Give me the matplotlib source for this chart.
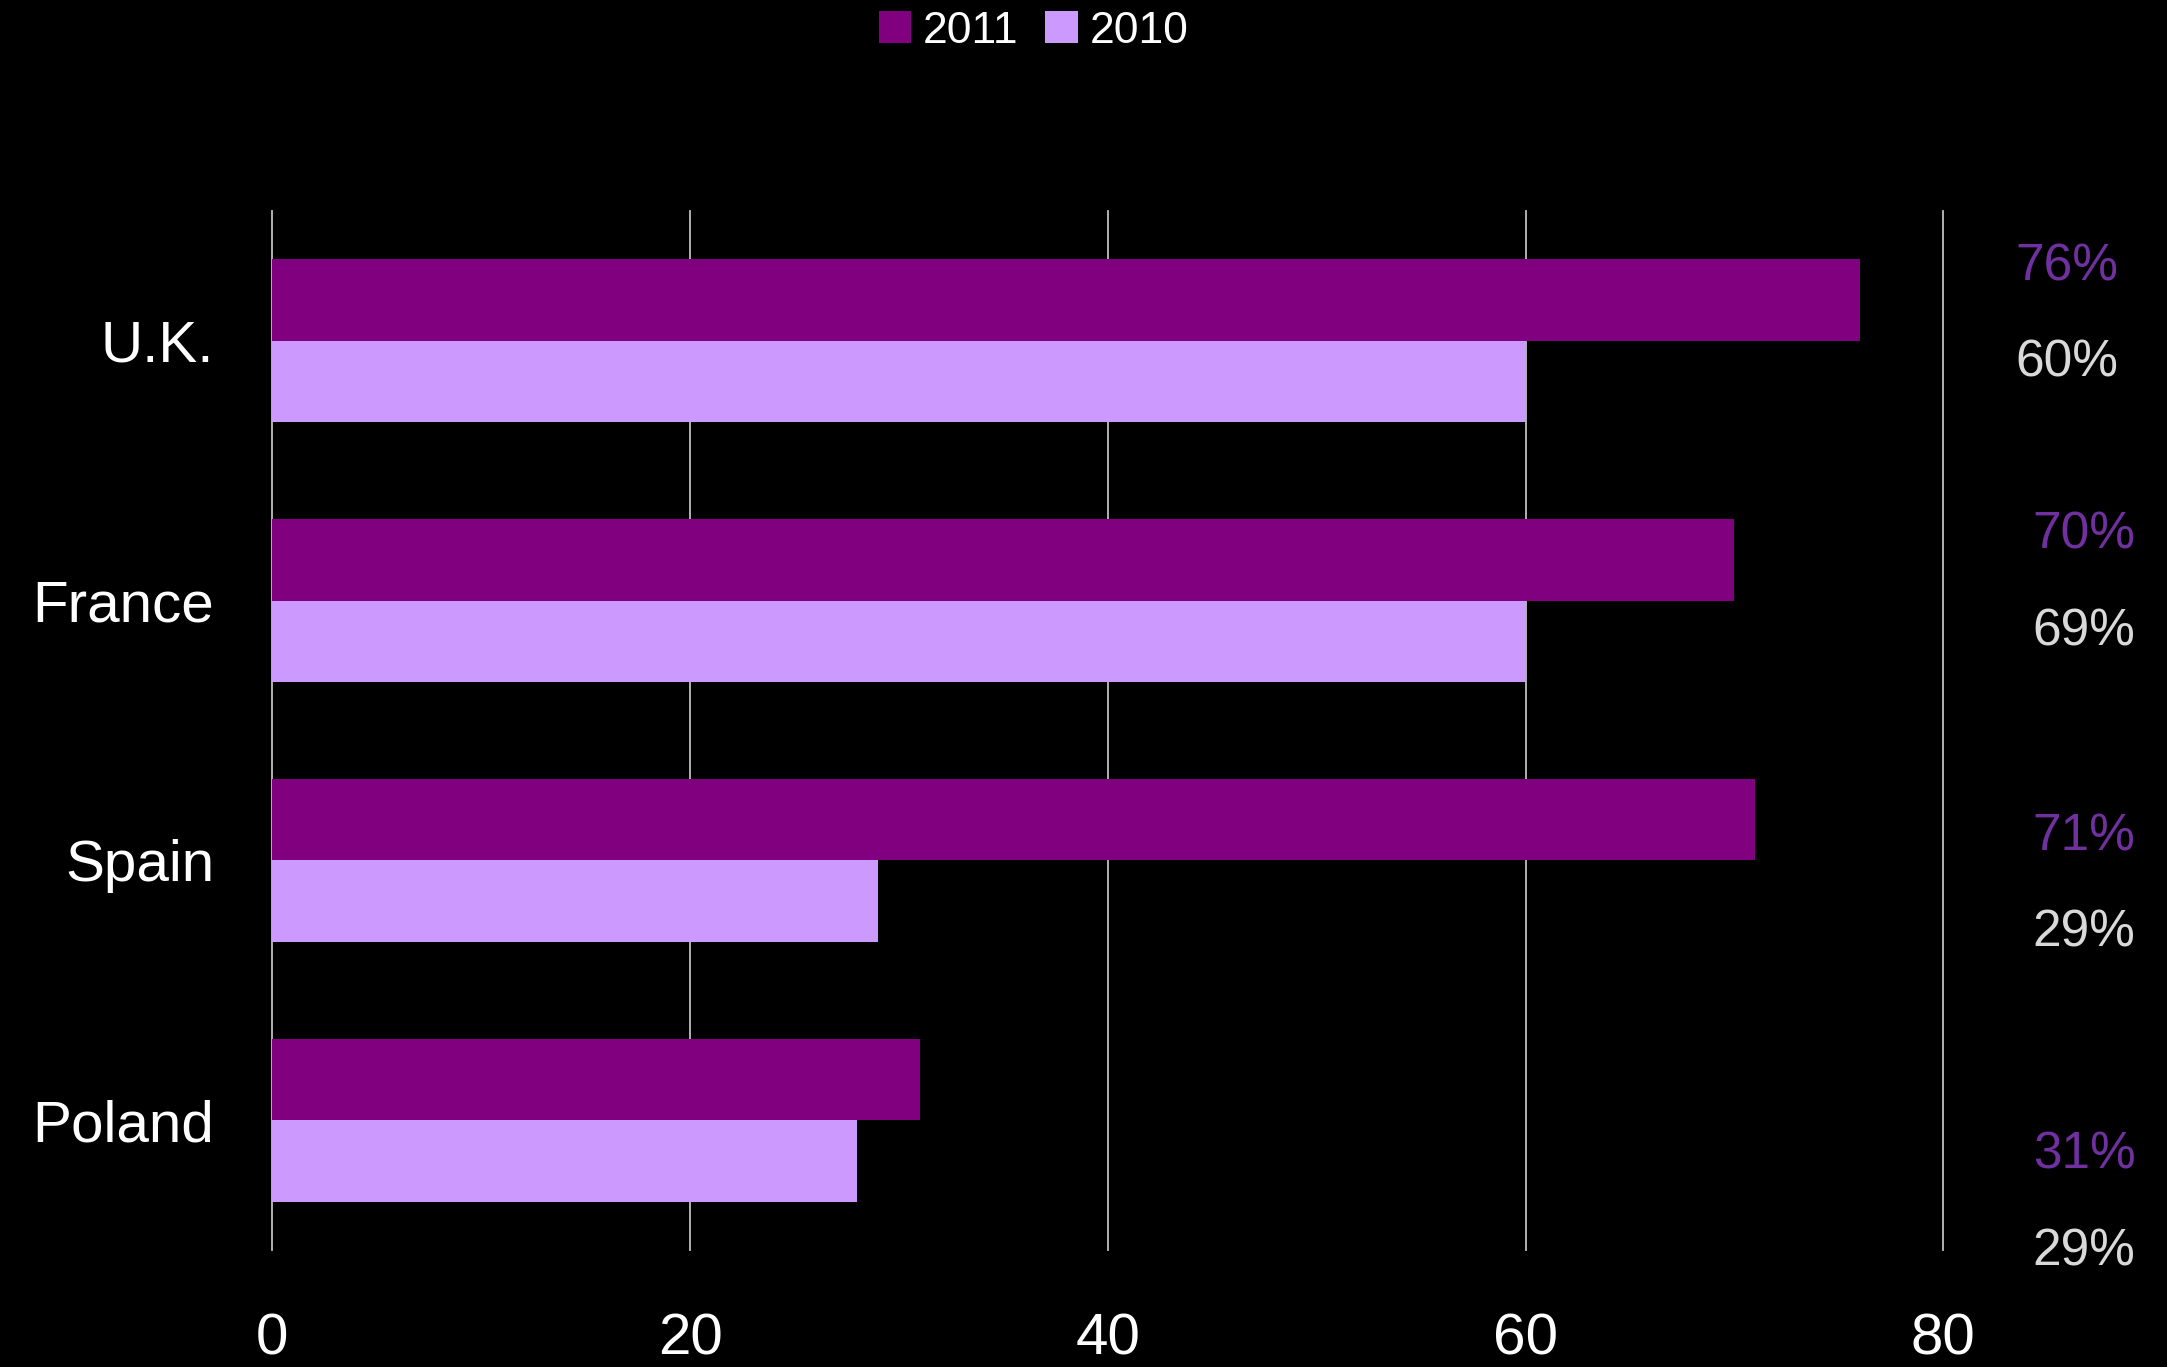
import matplotlib
matplotlib.use("Agg")
import matplotlib.pyplot as plt
import numpy as np

# data
countries = ["U.K.", "France", "Spain", "Poland"]
bars_2011 = [76, 70, 71, 31]
bars_2010 = [60, 60, 29, 28]
labels_2011 = ["76%", "70%", "71%", "31%"]
labels_2010 = ["60%", "69%", "29%", "29%"]
x_ticks = [0, 20, 40, 60, 80]

# where the percent labels sit (category units, right edge in x units)
lab_y_2011 = [-0.283, 0.749, 1.912, 3.136]
lab_y_2010 = [0.087, 1.122, 2.281, 3.506]
lab_x = [88.4, 89.2, 89.2, 89.2]

C2011 = "#800080"
C2010 = "#CC99FF"
TXT_2011 = "#7030A0"
TXT_2010 = "#D9D9D9"

plt.rcParams["font.family"] = ["Liberation Sans", "DejaVu Sans"]

fig = plt.figure(figsize=(21.67, 13.67), dpi=100, facecolor="black")
ax = fig.add_axes([0.1257, 0.0856, 0.7711, 0.7601], facecolor="black")

y = np.arange(len(countries))
h = 0.314
ax.barh(y - h / 2, bars_2011, height=h, color=C2011, label="2011", zorder=3)
ax.barh(y + h / 2, bars_2010, height=h, color=C2010, label="2010", zorder=3)

ax.set_xlim(0, 80)
ax.set_ylim(3.5, -0.5)
ax.set_xticks(x_ticks)
ax.set_yticks(y)
ax.set_yticklabels(countries)
ax.tick_params(axis="x", length=0, pad=45, labelsize=42, colors="white")
ax.tick_params(axis="y", length=0, pad=42, labelsize=42, colors="white")
for s in ax.spines.values():
    s.set_visible(False)

ax.grid(axis="x", color="#BFBFBF", linewidth=1.3, zorder=1)
ax.set_axisbelow(True)
for gl in ax.get_xgridlines():
    gl.set_clip_on(False)

for i in range(len(countries)):
    ax.text(lab_x[i], lab_y_2011[i], labels_2011[i], color=TXT_2011,
            fontsize=37, ha="right", va="center", clip_on=False)
    ax.text(lab_x[i], lab_y_2010[i], labels_2010[i], color=TXT_2010,
            fontsize=37, ha="right", va="center", clip_on=False)

leg = fig.legend(loc="center", bbox_to_anchor=(0.477, 0.977), ncol=2,
                 frameon=False, fontsize=32, handlelength=0.73,
                 handleheight=0.73, handletextpad=0.27, columnspacing=0.6,
                 borderaxespad=0, borderpad=0)
for t in leg.get_texts():
    t.set_color("white")

fig.savefig("out.png", dpi=100, facecolor="black")
